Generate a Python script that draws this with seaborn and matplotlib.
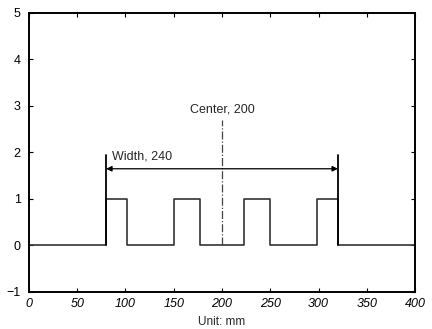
import numpy as np
import matplotlib
matplotlib.use("Agg")
import matplotlib.pyplot as plt
import seaborn as sns
import pandas as pd

# --- data ---
pulse_starts = [80, 150, 223, 298]
pulse_ends = [102, 177, 250, 320]
x_min, x_max = 0, 400
width_left, width_right = 80, 320
width_label = "Width, 240"
center_x = 200
center_label = "Center, 200"
x_ticks = [0, 50, 100, 150, 200, 250, 300, 350, 400]
y_ticks = [-1, 0, 1, 2, 3, 4, 5]

# build step signal from pulse edges
xs, ys = [x_min], [0]
for s, e in zip(pulse_starts, pulse_ends):
    xs += [s, s, e, e]
    ys += [0, 1, 1, 0]
xs.append(x_max)
ys.append(0)
df = pd.DataFrame({"x": xs, "y": ys})

sns.set_style("ticks")
plt.rcParams['font.family'] = ['Liberation Sans', 'DejaVu Sans']

fig = plt.figure(figsize=(4.32, 3.29), dpi=100)
ax = fig.add_axes([0.067, 0.1125, 0.894, 0.848])

sns.lineplot(data=df, x="x", y="y", estimator=None, sort=False,
             color="#333333", linewidth=1.2, ax=ax)

# width markers
for xv in (width_left, width_right):
    ax.plot([xv, xv], [0, 1.95], color="black", linewidth=1.3)
ax.annotate("", xy=(width_left, 1.65), xytext=(width_right, 1.65),
            arrowprops=dict(arrowstyle="<|-|>", color="black", lw=0.9,
                            mutation_scale=8, shrinkA=0, shrinkB=0))
ax.text(width_left + 6, 1.78, width_label, fontsize=9, ha="left", va="bottom")

# center line
ax.plot([center_x, center_x], [0, 2.7], color="#444444", linewidth=0.9,
        linestyle="-.")
ax.text(center_x, 2.8, center_label, fontsize=9, ha="center", va="bottom")

ax.set_xlim(x_min, x_max)
ax.set_ylim(-1, 5)
ax.set_xticks(x_ticks)
ax.set_yticks(y_ticks)
ax.set_xticklabels([str(t) for t in x_ticks], style="italic", fontsize=9)
ax.set_yticklabels([str(t) if t >= 0 else "\u22121" for t in y_ticks], fontsize=9)
ax.tick_params(direction="in", length=3, width=0.8, top=True, right=True,
               colors="black")
ax.tick_params(axis="y", pad=6)
ax.tick_params(axis="x", pad=4)
for sp in ax.spines.values():
    sp.set_visible(True)
    sp.set_linewidth(1.4)
    sp.set_color("black")
ax.set_xlabel("Unit: mm", fontsize=8.5, labelpad=5)
ax.set_ylabel("")

fig.savefig("out.png", dpi=100)
